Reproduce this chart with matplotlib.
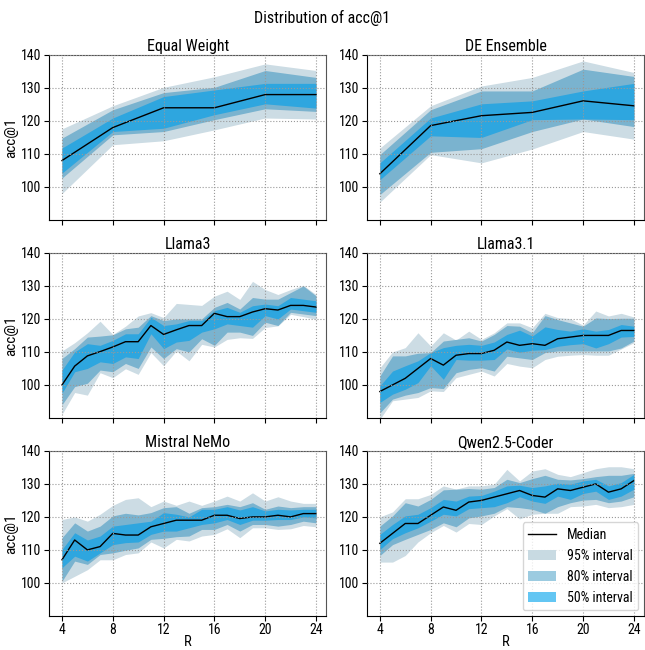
import matplotlib
matplotlib.use("Agg")
import matplotlib.pyplot as plt
from matplotlib.patches import Patch
from matplotlib.lines import Line2D
from matplotlib import font_manager

names = {f.name for f in font_manager.fontManager.ttflist}
fam = ['Roboto Condensed'] if 'Roboto Condensed' in names else []
plt.rcParams['font.family'] = fam + ['Roboto', 'DejaVu Sans']

# ---------------- data ----------------
R_coarse = [4, 8, 12, 16, 20, 24]
R_fine = list(range(4, 25))

# Equal Weight
ew_med = [108, 118, 124, 124, 128, 128]
ew_lo95 = [98, 112.8, 114, 117.3, 120.9, 120.6]
ew_hi95 = [117.6, 124.6, 130.2, 133.4, 137.3, 135.3]
ew_lo80 = [102.7, 115.8, 116.8, 120.4, 123.7, 122.9]
ew_hi80 = [114.8, 123.4, 128.6, 130.2, 135.3, 133.2]
ew_lo50 = [104.2, 116.8, 117.8, 121.9, 125.2, 123.9]
ew_hi50 = [111.8, 120.9, 127.4, 129.4, 131.4, 131.4]

# DE Ensemble
de_med = [104, 118.6, 121.6, 122.6, 126.1, 124.6]
de_lo95 = [95.4, 109.8, 107.3, 111.5, 116.8, 114.5]
de_hi95 = [111.8, 124.6, 130.6, 133.2, 138.2, 134.7]
de_lo80 = [97.7, 110.5, 111.6, 116.8, 120.6, 118.3]
de_hi80 = [109.8, 123.4, 129.1, 129.1, 135.7, 133.5]
de_lo50 = [102.2, 115.5, 115, 120.4, 120.6, 120.4]
de_hi50 = [107.3, 120.9, 125.2, 126.1, 129.1, 131.4]

# Llama3
l3_med = [100, 105.7, 108.8, 110.1, 111.5, 113.1, 113.1, 118, 115.3, 116.7, 118,
          118, 121.7, 120.7, 120.7, 122.1, 123.1, 122.7, 124.1, 124.1, 123.6]
l3_lo95 = [91.1, 97.7, 96.9, 103.7, 102.2, 104.9, 103.2, 109.8, 105.8, 110.3, 107.3,
           112.3, 111.5, 113.8, 114.3, 114.1, 117.4, 117.9, 121.4, 120.7, 119.9]
l3_hi95 = [110.3, 112.8, 115.8, 119.3, 115.3, 117.8, 120.9, 121.9, 120.4, 124.7, 124.4,
           124.1, 126.9, 128.4, 125.9, 131.4, 128.9, 127.4, 128.9, 130.2, 127.4]
l3_lo80 = [94, 99.5, 100.5, 104.5, 104, 106.5, 105, 111.5, 108, 111, 110,
           114, 112, 116, 116, 115, 119, 118, 122, 121.5, 121]
l3_hi80 = [108, 111, 114.5, 114.8, 115.2, 117, 117.5, 121, 119.5, 120, 120,
           120, 123.5, 125, 123, 126.5, 126, 126, 128, 130, 127]
l3_lo50 = [97.5, 104, 105, 107, 106.5, 108.5, 108, 115.5, 111, 113, 113.5,
           116, 117, 118.5, 118, 117.5, 121, 120, 123, 122.5, 122]
l3_hi50 = [104.5, 110, 112.5, 112, 113.5, 115.5, 115.5, 120.5, 118, 118.5, 119.5,
           119.5, 122.5, 123.5, 122, 124, 124.5, 124, 126.5, 126, 125.5]

# Llama3.1
l31_med = [98, 100, 102, 105, 108, 106, 109, 109.5, 109.5, 110.5, 113,
           112, 112.5, 112, 114, 114.5, 115, 115, 115, 116.5, 116.5]
l31_lo95 = [89.6, 95.2, 95.7, 96.2, 98.2, 98, 102.2, 103.2, 104.2, 102.7, 106.5,
            105.7, 105.2, 107.7, 108.7, 109, 109.2, 109, 109, 110.9, 112.8]
l31_hi95 = [105.2, 110, 111.3, 115.8, 111.8, 115.8, 113.6, 116.3, 113.8, 115.8, 118.8,
            118.8, 117.3, 121.7, 120.4, 120.1, 118.1, 122.4, 120.9, 121.7, 120.6]
l31_lo80 = [91.5, 95.7, 96.9, 97.7, 99.2, 98.9, 103.7, 104.7, 105.2, 104.2, 108.7,
            108.2, 107.7, 109.8, 110.3, 110.3, 110.3, 110.3, 110.3, 111.2, 113.3]
l31_hi80 = [102.7, 108.8, 108.8, 109.6, 109.8, 113.3, 113.8, 114.3, 113.3, 115.3, 118,
            117.8, 115.8, 121, 119.8, 118.8, 117.8, 120.3, 120.1, 120.2, 120.2]
l31_lo50 = [94.7, 97.2, 98.7, 100.7, 105.8, 101.7, 107.7, 107.5, 107.5, 107.7, 110.9,
            109.9, 110.5, 110.7, 111.7, 112.2, 112.5, 111.2, 112.5, 114.5, 114.7]
l31_hi50 = [99.7, 104.2, 105.8, 107.3, 109.8, 111.3, 112, 112.3, 112, 113, 115.3,
            116.6, 114.8, 117.6, 116.8, 116.3, 117, 116.3, 116.8, 118.3, 117.8]

# Mistral NeMo
mn_med = [107, 113, 110, 111, 115, 114.5, 114.5, 117, 118, 119, 119,
          119, 120.5, 120.5, 119.5, 120, 120, 120.5, 120, 121, 121]
mn_lo95 = [100, 102, 104, 107, 107, 108.6, 109.1, 112.4, 110.6, 113.2, 112.7,
           114.2, 114.7, 116.4, 113.7, 116.7, 116.7, 116.2, 116.4, 117.4, 117]
mn_hi95 = [119.2, 120, 118.7, 120.8, 123.5, 125.3, 125.8, 123.1, 124.8, 123.5, 124.8,
           123.5, 124.8, 126.3, 124.8, 127.3, 124.8, 126.1, 124.8, 124.1, 124.1]
mn_lo80 = [100.5, 106.6, 105.6, 108.6, 109.1, 109.9, 110.6, 113.2, 113.5, 114, 114.2,
           116.2, 116.2, 117.7, 115.7, 117.7, 117.7, 117.2, 117.7, 118.7, 118.2]
mn_hi80 = [113.7, 118.2, 115.7, 117.2, 120.3, 121.1, 120.6, 121.3, 122.8, 123.1, 121.1,
           122.8, 123.1, 123.8, 123.1, 124.3, 122.3, 123.3, 122.8, 123.1, 123.1]
mn_lo50 = [104.6, 108.1, 106.6, 109.1, 111.6, 112.2, 112.4, 114.7, 115.7, 115.7, 116.7,
           117.7, 118.2, 119.2, 117.7, 119, 119, 119.2, 119.2, 120, 119.7]
mn_hi50 = [110.1, 115.2, 113, 114.2, 117.2, 117.7, 118.2, 118.7, 121.3, 120.8, 120,
           122.3, 122.3, 123.1, 122.1, 123.1, 121.8, 122.3, 122.1, 122.3, 122.3]

# Qwen2.5-Coder
qw_med = [112, 115, 118, 118, 120.5, 123, 122, 124.5, 125, 126, 127,
          128, 126.5, 126, 128.5, 128, 129, 130, 127.5, 128.5, 131]
qw_lo95 = [106.3, 106.3, 108.3, 112.4, 115.2, 117.4, 115.4, 118, 117.7, 120.3, 122.5,
           119.4, 120.8, 121.1, 121.1, 123.1, 123.3, 123.8, 122.8, 123.1, 123.8]
qw_hi95 = [120, 121.5, 125.5, 125.5, 126.8, 129.4, 128.4, 129.4, 129.4, 129.9, 134.4,
           130.9, 133.9, 134.6, 132.9, 132.2, 133.4, 134.6, 135.2, 135.2, 134.6]
qw_lo80 = [108.3, 111.6, 113.2, 114.7, 116.2, 118.2, 117, 119.7, 120.3, 121.1, 123.1,
           122.8, 122.3, 121.1, 123.1, 124.3, 125.1, 125.3, 124.3, 124.8, 126.1]
qw_hi80 = [117.2, 120.3, 124.3, 123.3, 125.3, 128.2, 128.4, 128.6, 128.4, 128.9, 131.4,
           130.4, 131.6, 132.6, 131.4, 131.2, 131.6, 132.2, 132.6, 132.6, 133.2]
qw_lo50 = [110.1, 113.4, 115.2, 116.7, 118.7, 120.8, 120.3, 122.5, 122.8, 123.1, 124.3,
           126.1, 124.8, 124.1, 126.3, 125.3, 127.1, 127.8, 125.3, 126.3, 128.4]
qw_hi50 = [114.7, 117.7, 120.3, 120.8, 122.8, 125.3, 124.8, 126.3, 126.5, 127.8, 129.4,
           129.6, 128.9, 129.4, 130.2, 129.9, 130.9, 131.4, 129.4, 130.4, 132.9]

titles = ["Equal Weight", "DE Ensemble", "Llama3", "Llama3.1", "Mistral NeMo", "Qwen2.5-Coder"]

# ---------------- styling ----------------
c95 = '#ccdce4'
c80 = '#7ab3cf'
c50 = '#2ea6df'
leg95 = '#c8dae2'
leg80 = '#9ccbe0'
leg50 = '#63c6f3'

panels = [
    (R_coarse, ew_med, ew_lo95, ew_hi95, ew_lo80, ew_hi80, ew_lo50, ew_hi50),
    (R_coarse, de_med, de_lo95, de_hi95, de_lo80, de_hi80, de_lo50, de_hi50),
    (R_fine, l3_med, l3_lo95, l3_hi95, l3_lo80, l3_hi80, l3_lo50, l3_hi50),
    (R_fine, l31_med, l31_lo95, l31_hi95, l31_lo80, l31_hi80, l31_lo50, l31_hi50),
    (R_fine, mn_med, mn_lo95, mn_hi95, mn_lo80, mn_hi80, mn_lo50, mn_hi50),
    (R_fine, qw_med, qw_lo95, qw_hi95, qw_lo80, qw_hi80, qw_lo50, qw_hi50),
]

fig, axes = plt.subplots(3, 2, figsize=(6.45, 6.5), dpi=100, sharex=True)
fig.subplots_adjust(left=0.0764, right=0.9985, top=0.9154, bottom=0.0525,
                    wspace=0.148, hspace=0.2)

for i, (ax, p) in enumerate(zip(axes.flat, panels)):
    x, med, lo95, hi95, lo80, hi80, lo50, hi50 = p
    ax.fill_between(x, lo95, hi95, color=c95, linewidth=0)
    ax.fill_between(x, lo80, hi80, color=c80, linewidth=0)
    ax.fill_between(x, lo50, hi50, color=c50, linewidth=0)
    ax.plot(x, med, color='black', linewidth=1.0)
    ax.set_title(titles[i], fontsize=11.5, pad=3)
    ax.set_ylim(90, 140)
    ax.set_yticks([100, 110, 120, 130, 140])
    ax.set_xlim(3.0, 24.8)
    ax.set_xticks([4, 8, 12, 16, 20, 24])
    ax.grid(True, linestyle=':', color='#999999', linewidth=0.8)
    ax.set_axisbelow(False)
    ax.tick_params(axis='y', labelsize=10, length=3.5, pad=2)
    ax.tick_params(axis='x', labelsize=10, length=3.5, pad=1.5)
    for s in ['left', 'bottom']:
        ax.spines[s].set_color('black')
    for s in ['top', 'right']:
        ax.spines[s].set_color('#555555')
    if i % 2 == 0:
        ax.set_ylabel('acc@1', fontsize=11, labelpad=2)
    if i >= 4:
        ax.set_xlabel('R', fontsize=10.5, labelpad=-1)

handles = [Line2D([0], [0], color='black', linewidth=1.0),
           Patch(facecolor=leg95, edgecolor='none'),
           Patch(facecolor=leg80, edgecolor='none'),
           Patch(facecolor=leg50, edgecolor='none')]
axes[2, 1].legend(handles, ['Median', '95% interval', '80% interval', '50% interval'],
                  loc='lower right', fontsize=10, framealpha=0.8, edgecolor='#cccccc',
                  borderaxespad=0.4)

fig.suptitle('Distribution of acc@1', fontsize=11.5, y=0.985)
fig.savefig('out.png', dpi=100)
